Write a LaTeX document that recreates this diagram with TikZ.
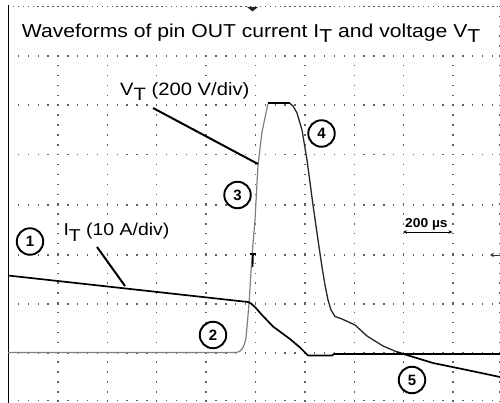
\documentclass[tikz,border=0pt]{standalone}
\usepackage{fontspec}
\setmainfont{Liberation Sans}
\usepackage{graphicx}
\usetikzlibrary{arrows.meta}
\newcommand\lowT{\raisebox{-0.3em}{T}}
\newcommand\wide[1]{\scalebox{1.13}[1]{#1}}
\begin{document}
\begin{tikzpicture}[x=1pt,y=-1pt,
  griddot/.style={fill=black!62},
  lbl/.style={fill=white,inner xsep=4pt,inner ysep=3pt,anchor=base west},
  num/.style={circle,draw,fill=white,line width=1.9pt,minimum size=26.5pt,inner sep=0pt,
    font=\fontsize{15}{15}\selectfont\bfseries},
  vtrace/.style={draw=black!50,line width=1.2pt,line join=round},
  dtrace/.style={draw=black!85,line width=1.3pt,line join=round},
  itrace/.style={draw=black,line width=1.7pt,line join=round},
  pointer/.style={draw=black,line width=2pt}]
\useasboundingbox (0,0) rectangle (500,403);
\fill[white] (0,0) rectangle (500,403);
% grid: vertical dotted lines
\foreach \xx in {57.9,107.3,156.7,206.1,255.5,304.8,354.2,403.6,453,499.2} {
  \foreach \k in {0,...,40} {
    \fill[griddot] ({\xx-0.7},{6.5+9.88*\k-0.7}) rectangle ++(1.4,1.4);
  }
}
% grid: horizontal dotted lines
\foreach \yy in {56,105,154.5,205,255,304,353,400.5} {
  \foreach \k in {0,...,49} {
    \fill[griddot] ({8.6+9.875*\k-0.7},{\yy-0.7}) rectangle ++(1.4,1.4);
  }
}
% top border: dense dots
\foreach \k in {0,...,99} {
  \fill[black!65] ({8.6+4.94*\k-0.8},{6.5-0.7}) rectangle ++(1.6,1.4);
}
% left border
\draw[black,line width=1pt] (8,5.5) -- (8,403);
% trigger position marker (top)
\fill[black!85] (247,7) -- (258,7) -- (252.5,11.5) -- cycle;
% trigger level marker (right)
\draw[black!80,line width=0.9pt,-{Stealth[length=4pt,width=4.5pt]}] (500,255) -- (490,255);

% V_T trace
\draw[vtrace] (8,352.5) -- (236,352.5) .. controls (241,352.3) and (244,348) .. (246,338)
  -- (249,304) -- (252,256) -- (255,220) -- (258,165) -- (262,132) -- (268,103.5);
\draw[black,line width=2pt] (268,103.5) -- (290,103.5);
\draw[dtrace] (290,103.5) -- (293,106) -- (297,113) -- (302,130) -- (307,160)
  -- (313,205) -- (318,240) -- (322,267) -- (325,285) -- (328,300) -- (331,310)
  -- (335,316.5) -- (342,319) -- (355,325) -- (367,336) -- (383,346) -- (397,352);
\draw[itrace] (397,352) -- (410,356) -- (433,363) -- (467,370) -- (500,377);
% trigger mark on V_T
\draw[black,line width=1.3pt] (250,254) -- (256,254);
\draw[black,line width=1.6pt] (253,254) -- (252.6,267);

% I_T trace
\draw[itrace] (8,275.5) -- (248,302) -- (251,303.5) -- (255,307) -- (262,315) -- (273,326.5)
  -- (290,339) -- (300,347.5) -- (308,355.5) -- (332,355.5) -- (334,354) -- (500,354);

% labels
\node[lbl,inner xsep=11pt,inner ysep=8pt] (title) at (10.7,37.3) {\fontsize{18.7}{20}\selectfont\wide{Waveforms of pin OUT current I\lowT{} and voltage V\lowT}};
\node[lbl] (vlab) at (116,95.5) {\fontsize{17.9}{20}\selectfont\wide{V\lowT{} (200 V/div)}};
\node[lbl] (ilab) at (59.3,236) {\fontsize{17.2}{20}\selectfont\wide{I\lowT{} (10 A/div)}};
\coordinate (vpa) at (153,108);
\coordinate (vpb) at (258,164);
\coordinate (ipa) at (97,247);
\coordinate (ipb) at (125,286);
\draw[pointer] (vpa) -- (vpb);
\draw[pointer] (ipa) -- (ipb);

% circled numbers
\node[num] (n1) at (30,241.5) {1};
\node[num] (n2) at (213,335) {2};
\node[num] (n3) at (237.5,195) {3};
\node[num] (n4) at (321.5,133.5) {4};
\node[num] (n5) at (412,380) {5};

% time scale
\node[lbl,fill=none,inner sep=0pt] (ts) at (405,227.3) {\fontsize{13}{13}\selectfont\bfseries\scalebox{1.06}[1]{200 µs}};
\coordinate (tsa) at (403,232);
\coordinate (tsb) at (452.5,232);
\draw[black,line width=0.9pt,{Stealth[length=4pt,width=3.5pt]}-{Stealth[length=4pt,width=3.5pt]}] (tsa) -- (tsb);
\end{tikzpicture}
\end{document}
